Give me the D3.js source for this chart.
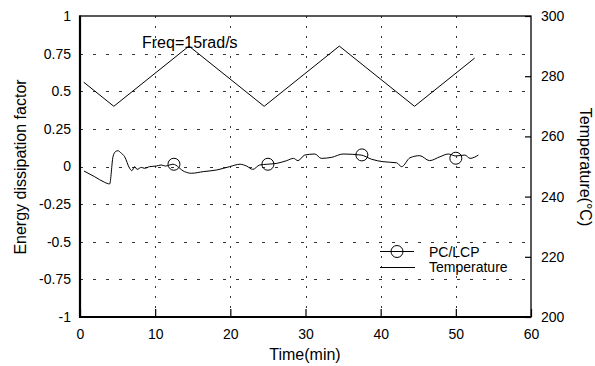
<!DOCTYPE html>
<html>
<head>
<meta charset="utf-8">
<script src="https://cdn.jsdelivr.net/npm/d3@7"></script>
<style>
  html, body { margin: 0; padding: 0; background: #fff; }
  svg { display: block; }
  text { font-family: "Liberation Sans", Arial, Helvetica, sans-serif; fill: #000; }
</style>
</head>
<body>
<svg id="chart" width="595" height="366"></svg>
<script>
// ---------- data ----------
const xTicks = [0, 10, 20, 30, 40, 50, 60];
const yLeftTicks = [-1, -0.75, -0.5, -0.25, 0, 0.25, 0.5, 0.75, 1];
const yLeftLabels = ["-1", "-0.75", "-0.5", "-0.25", "0", "0.25", "0.5", "0.75", "1"];
const yRightTicks = [200, 220, 240, 260, 280, 300];

// Temperature (right axis, °C) vs time (min)
const tempTime  = [0.5, 4.5, 14.5, 24.5, 34.5, 44.5, 52.5];
const tempValue = [278, 270, 290, 270, 290, 270, 286];

// PC/LCP energy dissipation factor (left axis) vs time (min)
const pcTime = [0.53, 1.95, 3.28, 3.94, 4.39, 4.7, 5.05, 5.41, 5.94, 6.6, 6.9, 7.27, 7.6, 8.15, 8.6, 9.26,
  10.15, 10.8, 11.35, 12.37, 13.9, 14.8, 16.4, 18.2, 19.9, 21.3, 22.16, 23.0, 23.9, 24.9, 26.2, 27.5,
  28.4, 29.0, 29.9, 31.25, 32.1, 33.5, 35.0, 37.4, 38.8, 40.3, 42.1, 42.8, 43.9, 45.2, 46.5, 47.9,
  49.0, 50.0, 51.2, 51.9, 53.0];
const pcValue = [-0.030, -0.068, -0.105, -0.116, 0.065, 0.098, 0.105, 0.092, 0.065, -0.012, -0.028, -0.001, -0.019, -0.006, -0.012, -0.001,
  0.003, 0.010, 0.003, 0.015, -0.034, -0.045, -0.034, -0.023, -0.001, 0.015, 0.003, -0.019, 0.010, 0.015, 0.021, 0.039,
  0.054, 0.039, 0.076, 0.083, 0.054, 0.061, 0.083, 0.076, 0.048, 0.032, 0.025, -0.001, 0.058, 0.072, 0.039, 0.065,
  0.083, 0.070, 0.076, 0.054, 0.076];

// circle markers on the PC/LCP curve
const markerTime  = [12.5, 25, 37.5, 50];
const markerValue = [0.015, 0.015, 0.077, 0.055];

const legendLabels = ["PC/LCP", "Temperature"];
const annotation = "Freq=15rad/s";

// ---------- layout ----------
const svg = d3.select("#chart");
const L = 80, R = 531, T = 16, B = 317;

const x  = d3.scaleLinear().domain([0, 60]).range([L, R]);
const yL = d3.scaleLinear().domain([-1, 1]).range([B, T]);
const yR = d3.scaleLinear().domain([200, 300]).range([B, T]);

// grid
const grid = svg.append("g").attr("stroke", "#333").attr("stroke-width", 1);
grid.selectAll("line.h")
  .data(yLeftTicks.filter(d => d > -1 && d < 1))
  .join("line")
  .attr("x1", L).attr("x2", R)
  .attr("y1", d => Math.round(yL(d)) + 0.5).attr("y2", d => Math.round(yL(d)) + 0.5)
  .attr("stroke-dasharray", "3,10");
grid.selectAll("line.v")
  .data(xTicks.filter(d => d > 0 && d < 60))
  .join("line")
  .attr("x1", d => Math.round(x(d)) + 0.5).attr("x2", d => Math.round(x(d)) + 0.5)
  .attr("y1", T).attr("y2", B)
  .attr("stroke-dasharray", "2,8");

// axes
const fs = 14;
const gB = svg.append("g").attr("transform", `translate(0,${B})`)
  .call(d3.axisBottom(x).tickValues(xTicks).tickSizeInner(-8).tickSizeOuter(0).tickPadding(12).tickFormat(d3.format("d")));
const gL = svg.append("g").attr("transform", `translate(${L},0)`)
  .call(d3.axisLeft(yL).tickValues(yLeftTicks).tickSize(0).tickPadding(9)
    .tickFormat((d, i) => yLeftLabels[i]));
const gR = svg.append("g").attr("transform", `translate(${R},0)`)
  .call(d3.axisRight(yR).tickValues(yRightTicks).tickSizeInner(-6).tickSizeOuter(0).tickPadding(10).tickFormat(d3.format("d")));
[gB, gL, gR].forEach(g => {
  g.select(".domain").remove();
  g.selectAll("text").style("font-size", fs + "px").style("font-family", '"Liberation Sans", Arial, sans-serif').attr("fill", "#000");
  g.selectAll("line").attr("stroke", "#000").attr("stroke-width", 1.2);
});

// frame
svg.append("rect").attr("x", L).attr("y", T).attr("width", R - L).attr("height", B - T)
  .attr("fill", "none").attr("stroke", "#000").attr("stroke-width", 1.3);
svg.append("line").attr("x1", L).attr("x2", L).attr("y1", T - 0.5).attr("y2", B + 1)
  .attr("stroke", "#000").attr("stroke-width", 2.2);
svg.append("line").attr("x1", L - 1).attr("x2", R).attr("y1", B).attr("y2", B)
  .attr("stroke", "#000").attr("stroke-width", 2.2);

// temperature line
const tempData = tempTime.map((t, i) => [t, tempValue[i]]);
svg.append("path").datum(tempData)
  .attr("fill", "none").attr("stroke", "#000").attr("stroke-width", 1)
  .attr("d", d3.line().x(d => x(d[0])).y(d => yR(d[1])));

// PC/LCP line
const pcData = pcTime.map((t, i) => [t, pcValue[i]]);
svg.append("path").datum(pcData)
  .attr("fill", "none").attr("stroke", "#000").attr("stroke-width", 1)
  .attr("d", d3.line().x(d => x(d[0])).y(d => yL(d[1])).curve(d3.curveMonotoneX));

svg.selectAll("circle.mk").data(markerTime.map((t, i) => [t, markerValue[i]]))
  .join("circle")
  .attr("cx", d => x(d[0])).attr("cy", d => yL(d[1])).attr("r", 6)
  .attr("fill", "none").attr("stroke", "#000").attr("stroke-width", 1);

// annotation
svg.append("text").attr("x", 142).attr("y", 48).style("font-size", "16px").text(annotation);

// axis titles
svg.append("text").attr("x", 305).attr("y", 360).attr("text-anchor", "middle")
  .style("font-size", "16px").text("Time(min)");
svg.append("text").attr("transform", "translate(25.5,167) rotate(-90)").attr("text-anchor", "middle")
  .style("font-size", "16px").text("Energy dissipation factor");
svg.append("text").attr("transform", "translate(580,167) rotate(90)").attr("text-anchor", "middle")
  .style("font-size", "16px").text("Temperature(\u00B0C)");

// legend
const lg = svg.append("g");
lg.append("line").attr("x1", 380).attr("x2", 414).attr("y1", 251.5).attr("y2", 251.5).attr("stroke", "#000");
lg.append("circle").attr("cx", 397).attr("cy", 251.5).attr("r", 6).attr("fill", "none").attr("stroke", "#000");
lg.append("line").attr("x1", 380).attr("x2", 415).attr("y1", 267.5).attr("y2", 267.5).attr("stroke", "#000");
lg.append("text").attr("x", 429).attr("y", 256.5).style("font-size", "14px").text(legendLabels[0]);
lg.append("text").attr("x", 429).attr("y", 272).style("font-size", "14px").text(legendLabels[1]);
</script>
</body>
</html>
